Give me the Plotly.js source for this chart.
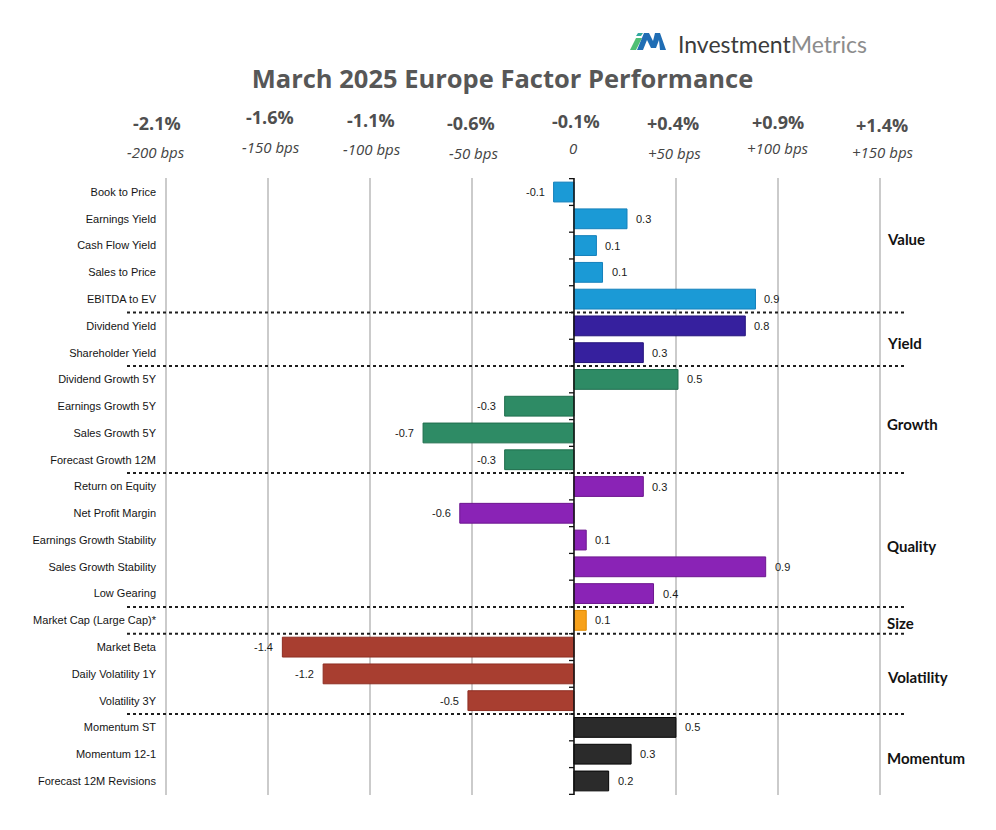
<!DOCTYPE html>
<html><head><meta charset="utf-8">
<script src="https://cdn.plot.ly/plotly-3.0.1.min.js"></script>
<style>html,body{margin:0;padding:0;background:#fff}#chart{width:996px;height:830px}</style>
</head><body><div id="chart"></div>
<script>
// ---------------- DATA ----------------
const categories = ['Book to Price','Earnings Yield','Cash Flow Yield','Sales to Price','EBITDA to EV',
  'Dividend Yield','Shareholder Yield',
  'Dividend Growth 5Y','Earnings Growth 5Y','Sales Growth 5Y','Forecast Growth 12M',
  'Return on Equity','Net Profit Margin','Earnings Growth Stability','Sales Growth Stability','Low Gearing',
  'Market Cap (Large Cap)*',
  'Market Beta','Daily Volatility 1Y','Volatility 3Y',
  'Momentum ST','Momentum 12-1','Forecast 12M Revisions'];
const values = [-0.10,0.26,0.11,0.14,0.89,
  0.84,0.34,
  0.51,-0.34,-0.74,-0.34,
  0.34,-0.56,0.06,0.94,0.39,
  0.06,
  -1.43,-1.23,-0.52,
  0.50,0.28,0.17];
const groupNames = ['Value','Yield','Growth','Quality','Size','Volatility','Momentum'];
const groupSizes = [5,2,4,5,1,3,3];
const gridValues = [-2,-1.5,-1,-0.5,0,0.5,1,1.5];
const pctLabels = ['-2.1%','-1.6%','-1.1%','-0.6%','-0.1%','+0.4%','+0.9%','+1.4%'];
const bpsLabels = ['-200 bps','-150 bps','-100 bps','-50 bps','0','+50 bps','+100 bps','+150 bps'];

// ---------------- STYLE ----------------
const groupFill = ['#1b9ad6','#36209e','#2e8b65','#8a23b6','#f7a11a','#a83e30','#2b2b2b'];
const groupLine = ['#1580bb','#24137c','#1f6e4d','#6d178f','#e08a00','#8e2e22','#050505'];
const groupYShift = [7,-4,-4,-6,-3,-3,-4];
const pctY = [122.7,117.3,120,122.7,120.7,122.7,121.7,125];
const bpsY = [151.7,146.7,149.3,152.7,148.3,152.7,147.7,151.7];
const pctDX = [-9,2,1,-1,2,-3,0,2];
const bpsDX = [-10,3,2,1,-1,-1,0,3];

const M = {l:160, r:110, t:178, b:35};
const W = 996, H = 830;
const PW = W - M.l - M.r, PH = H - M.t - M.b;
const px = x => (x - M.l) / PW;
const py = y => (H - M.b - y) / PH;

const fills = [], lines = [];
const groupStart = [];
let idx = 0;
groupSizes.forEach((n, g) => {
  groupStart.push(idx);
  for (let k = 0; k < n; k++) { fills.push(groupFill[g]); lines.push(groupLine[g]); }
  idx += n;
});

const trace = {
  type: 'bar', orientation: 'h',
  x: values, y: categories,
  marker: {color: fills, line: {color: lines, width: 1}},
  hoverinfo: 'x+y'
};

const shapes = [];
// group separators
groupSizes.slice(0, -1).forEach((n, g) => {
  const b = groupStart[g] + n - 0.5;
  shapes.push({type:'line', xref:'paper', yref:'y', x0:px(127), x1:px(905), y0:b, y1:b,
    line:{color:'#1e1e1e', width:2, dash:'dot'}, layer:'above'});
});
// zero axis line
shapes.push({type:'line', xref:'x', yref:'paper', x0:0, x1:0, y0:0, y1:1,
  line:{color:'#111', width:1.5}, layer:'above'});
// zero axis tick marks at row boundaries
for (let i = 0; i <= categories.length; i++) {
  shapes.push({type:'line', xref:'x', xsizemode:'pixel', xanchor:0, x0:-5, x1:0,
    yref:'y', y0:i-0.5, y1:i-0.5, line:{color:'#111', width:1.3}, layer:'above'});
}
// logo icon
const P = (x, y) => px(x) + ',' + py(y);
shapes.push({type:'path', xref:'paper', yref:'paper', layer:'above',
  path:'M' + P(630,50) + ' L' + P(636,50) + ' L' + P(642,38) + ' L' + P(636,38) + ' Z',
  fillcolor:'#4fbf75', line:{width:0}});
shapes.push({type:'path', xref:'paper', yref:'paper', layer:'above',
  path:'M' + P(636,36) + ' L' + P(641,36) + ' L' + P(643,33) + ' L' + P(638,33) + ' Z',
  fillcolor:'#33a9a0', line:{width:0}});
shapes.push({type:'path', xref:'paper', yref:'paper', layer:'above',
  path:'M' + P(637,50) + ' L' + P(643,50) + ' L' + P(647,40) + ' L' + P(651,48) + ' L' + P(656,48) +
       ' L' + P(659,40) + ' L' + P(660,50) + ' L' + P(666,50) + ' L' + P(660,33) + ' L' + P(655,33) +
       ' L' + P(653,41) + ' L' + P(649,33) + ' L' + P(644,33) + ' Z',
  fillcolor:'#1f6db4', line:{width:0}});

const annotations = [];
// value labels
values.forEach((v, i) => {
  annotations.push({xref:'x', yref:'y', x:v, y:categories[i], text:v.toFixed(1),
    showarrow:false, xanchor: v >= 0 ? 'left' : 'right', xshift: v >= 0 ? 7 : -7,
    font:{family:'Liberation Sans, Arial, sans-serif', size:11, color:'#1a1a1a'}});
});
// group labels
groupNames.forEach((name, g) => {
  const mid = groupStart[g] + (groupSizes[g] - 1) / 2;
  annotations.push({xref:'paper', yref:'y', x:px(885), y:mid, yshift:groupYShift[g], text:'<b>'+name+'</b>',
    showarrow:false, xanchor:'left', yanchor:'middle',
    font:{family:'Lato, Open Sans, sans-serif', size:15, color:'#121212'}});
});
// top labels
gridValues.forEach((gv, i) => {
  annotations.push({xref:'x', yref:'paper', x:gv, y:py(pctY[i]), xshift:pctDX[i], text:pctLabels[i],
    showarrow:false, xanchor:'center', yanchor:'middle',
    font:{family:'Open Sans, sans-serif', size:18, weight:700, color:'#4f4f4f'}});
  annotations.push({xref:'x', yref:'paper', x:gv, y:py(bpsY[i]), xshift:bpsDX[i], text:bpsLabels[i],
    showarrow:false, xanchor:'center', yanchor:'middle',
    font:{family:'Open Sans, sans-serif', size:15, style:'italic', color:'#444'}});
});
// logo text
annotations.push({xref:'paper', yref:'paper', x:px(676), y:py(44), xanchor:'left', yanchor:'middle', showarrow:false,
  text:'<span style="color:#3b3b3b">Investment</span><span style="color:#8c8c8c">Metrics</span>',
  font:{family:'Lato, sans-serif', size:23}});

const layout = {
  width: W, height: H, margin: M,
  paper_bgcolor:'#fff', plot_bgcolor:'#fff',
  showlegend:false, bargap:0.26,
  title:{text:'March 2025 Europe Factor Performance', x:0.5045, xanchor:'center', y:1-79/H, yanchor:'middle',
    font:{family:'Open Sans, sans-serif', size:25.5, weight:700, color:'#575757'}},
  xaxis:{range:[-2.03,1.53], tickvals:gridValues, showticklabels:false, ticks:'',
    showgrid:true, gridcolor:'#cbcbcb', gridwidth:2, zeroline:false, showline:false, fixedrange:true},
  yaxis:{type:'category', categoryorder:'array', categoryarray:categories, autorange:'reversed',
    ticks:'', ticklabelstandoff:3, showgrid:false, zeroline:false, showline:false, fixedrange:true,
    tickfont:{family:'Liberation Sans, Arial, sans-serif', size:11, color:'#141414'}},
  shapes: shapes, annotations: annotations
};

Plotly.newPlot('chart', [trace], layout, {displayModeBar:false, staticPlot:true});
</script></body></html>
